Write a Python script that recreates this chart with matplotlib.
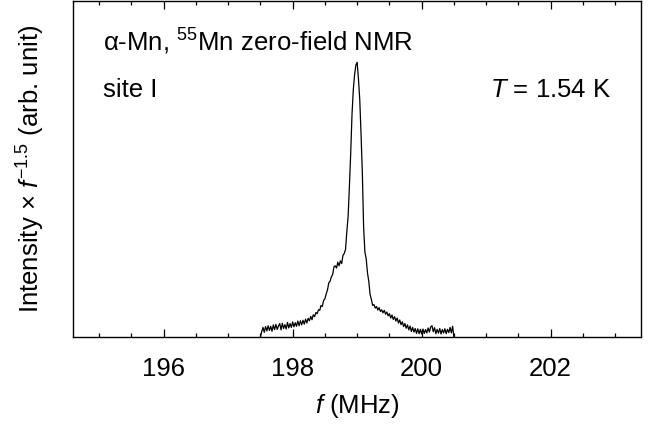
import numpy as np
import matplotlib
matplotlib.use("Agg")
import matplotlib.pyplot as plt
from matplotlib.ticker import MultipleLocator

plt.rcParams['font.family'] = ['Liberation Sans', 'DejaVu Sans']
plt.rcParams['mathtext.fontset'] = 'custom'
plt.rcParams['mathtext.rm'] = 'Liberation Sans'
plt.rcParams['mathtext.it'] = 'Liberation Sans:italic'
plt.rcParams['mathtext.bf'] = 'Liberation Sans:bold'

# Spectrum: intensity x f^-1.5 (arb. unit, peak = 100), frequency grid 197.50 ... 200.50 MHz
f_start = 197.50
f_stop = 200.50
intensity = [
    0.0, 2.0, 3.6, 1.8, 3.9, 2.3, 4.2, 2.5, 4.0, 2.2,
    4.5, 2.8, 4.7, 2.9, 4.1, 5.0, 2.7, 5.1, 3.2, 4.6,
    3.0, 5.4, 3.4, 5.0, 3.6, 5.6, 3.8, 5.3, 4.0, 5.9,
    4.2, 6.0, 4.5, 6.2, 4.8, 6.6, 5.2, 6.9, 6.0, 7.6,
    6.4, 8.2, 7.5, 9.0, 8.6, 10.0, 9.8, 11.6, 11.2, 13.4,
    14.0, 15.8, 17.2, 19.8, 20.4, 22.0, 22.8, 25.6, 26.0, 25.2,
    27.3, 26.0, 27.8, 26.8, 29.8, 30.5, 32.0, 38.5, 44.0, 55.0,
    67.0, 81.0, 90.0, 95.5, 99.0, 100.0, 94.0, 86.5, 74.0, 60.0,
    40.0, 31.0, 28.6, 23.4, 20.4, 15.6, 13.8, 11.6, 11.9, 10.6,
    11.2, 9.9, 10.8, 9.4, 10.0, 8.9, 9.8, 8.4, 9.2, 7.8,
    8.6, 7.0, 8.1, 6.5, 7.5, 5.9, 7.0, 5.2, 6.3, 4.6,
    5.6, 3.9, 5.0, 3.3, 4.5, 2.7, 4.1, 2.1, 3.6, 1.9,
    3.2, 1.4, 3.1, 1.3, 2.9, 1.2, 3.0, 1.4, 2.8, 1.6,
    3.4, 1.9, 3.8, 4.2, 2.0, 3.5, 1.3, 2.9, 1.5, 3.2,
    1.2, 2.8, 1.6, 3.1, 1.3, 2.9, 1.7, 3.6, 1.6, 4.0,
    0.0,
]
freq = np.linspace(f_start, f_stop, len(intensity))

xticks = [196, 198, 200, 202]
xlim = (194.6, 203.4)
ylim = (0, 122.3)

fig = plt.figure(figsize=(6.63, 4.36), dpi=100)
ax = fig.add_axes([0.1106, 0.2264, 0.8562, 0.7713])

ax.plot(freq, intensity, color='black', linewidth=0.9)

ax.set_xlim(*xlim)
ax.set_ylim(*ylim)
ax.set_xticks(xticks)
ax.set_xticklabels([str(t) for t in xticks])
ax.xaxis.set_minor_locator(MultipleLocator(0.5))
ax.set_yticks([])
ax.tick_params(axis='x', which='both', direction='in', top=True, bottom=True,
               labelsize=18.5, pad=14, width=0.9)
ax.tick_params(axis='x', which='major', length=5.5)
ax.tick_params(axis='x', which='minor', length=3)
for s in ax.spines.values():
    s.set_linewidth(1.0)

ax.set_xlabel(r'$f$ (MHz)', fontsize=18.5, labelpad=8)
ax.set_ylabel(r'Intensity × $f^{-1.5}$ (arb. unit)', fontsize=18.5, labelpad=19)

ax.text(0.0518, 0.851, r'α-Mn, $^{55}$Mn zero-field NMR', transform=ax.transAxes,
        fontsize=18.5, ha='left', va='baseline')
ax.text(0.0518, 0.715, 'site I', transform=ax.transAxes,
        fontsize=18.5, ha='left', va='baseline')
ax.text(0.948, 0.715, r'$T$ = 1.54 K', transform=ax.transAxes,
        fontsize=18.5, ha='right', va='baseline')

fig.savefig('out.png', dpi=100)
